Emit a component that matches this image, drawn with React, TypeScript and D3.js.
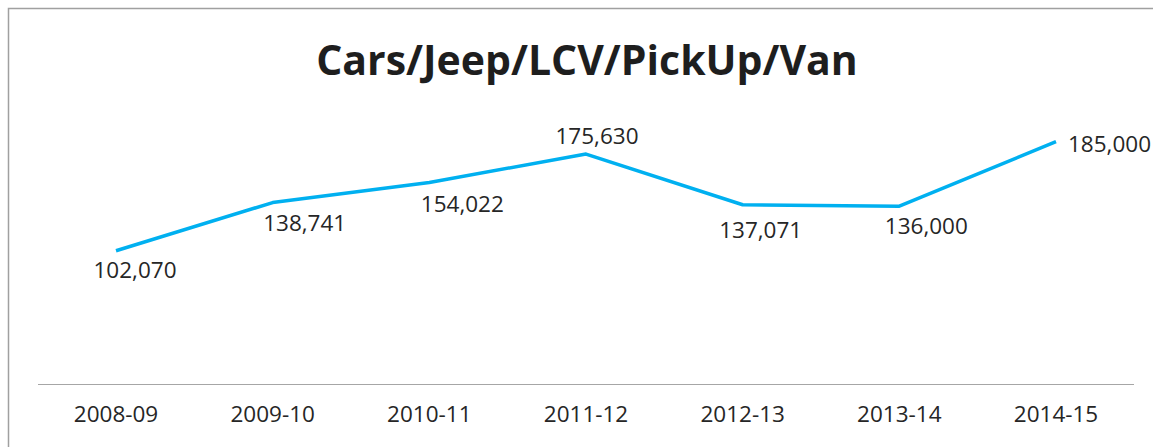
import React from "react";
import * as d3 from "d3";

const years = ["2008-09", "2009-10", "2010-11", "2011-12", "2012-13", "2013-14", "2014-15"];
const sales = [102070, 138741, 154022, 175630, 137071, 136000, 185000];

// label nudges (dx, dy from the point), like Excel placed them
const labelDx = [19, 32, 33, 11, 18, 27, 12];
const labelDy = [27, 28, 30, -10, 33, 28, 10];

const W = 1153;
const H = 447;

export default function App() {
  const x = d3.scalePoint<string>().domain(years).range([116, 1056]);
  const y = d3.scaleLinear().domain([0, 200000]).range([385, 122]);

  const line = d3
    .line<number>()
    .x((_, i) => x(years[i]) as number)
    .y((d) => y(d));

  const fmt = d3.format(",");
  const font = "'Open Sans', 'Noto Sans', sans-serif";

  return (
    <svg
      width={W}
      height={H}
      style={{ position: "absolute", left: 0, top: 0, background: "#fff" }}
    >
      {/* chart border, runs past the right/bottom edges */}
      <rect x={8.5} y={8.5} width={1200} height={500} fill="#fff" stroke="#a0a0a0" strokeWidth={1.5} />

      <text
        x={587}
        y={75}
        textAnchor="middle"
        fontFamily={font}
        fontWeight="bold"
        fontSize={41}
        fill="#1e1e1e"
      >
        Cars/Jeep/LCV/PickUp/Van
      </text>

      {/* category axis */}
      <line x1={38} x2={1134} y1={384.5} y2={384.5} stroke="#a6a6a6" strokeWidth={1.2} />
      {years.map((yr) => (
        <text
          key={yr}
          x={x(yr)}
          y={422}
          textAnchor="middle"
          fontFamily={font}
          fontSize={22.5}
          fill="#262626"
        >
          {yr}
        </text>
      ))}

      <path d={line(sales) ?? ""} fill="none" stroke="#00b0f0" strokeWidth={3.5} strokeLinejoin="round" />

      {sales.map((v, i) => (
        <text
          key={i}
          x={(x(years[i]) as number) + labelDx[i]}
          y={y(v) + labelDy[i]}
          textAnchor={i === sales.length - 1 ? "start" : "middle"}
          fontFamily={font}
          fontSize={22.5}
          fill="#262626"
        >
          {fmt(v)}
        </text>
      ))}
    </svg>
  );
}
